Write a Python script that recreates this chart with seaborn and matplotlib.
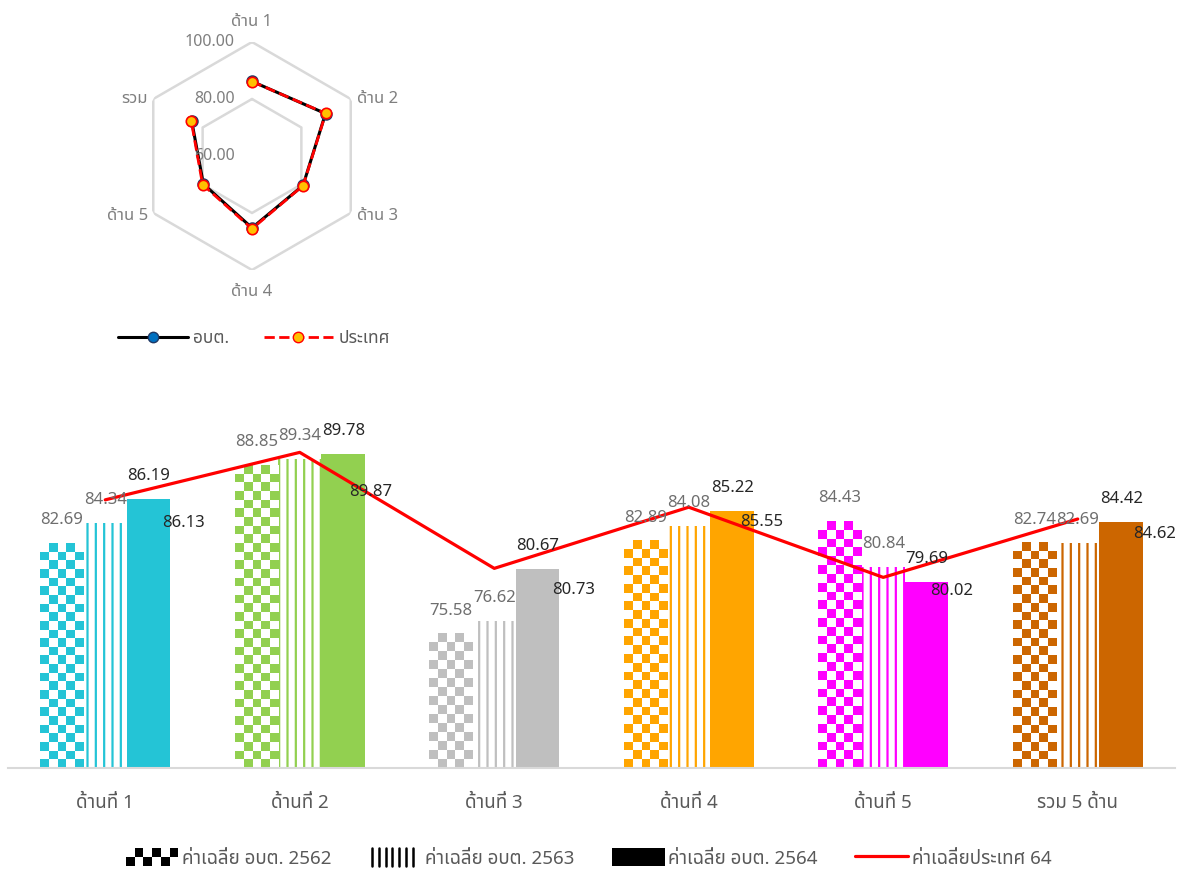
import numpy as np
import pandas as pd
import matplotlib
matplotlib.use('Agg')
import matplotlib.pyplot as plt
import seaborn as sns
from matplotlib import font_manager
from matplotlib.colors import ListedColormap
from matplotlib.lines import Line2D
from matplotlib.patches import Patch, Rectangle
from matplotlib.legend_handler import HandlerBase

# %%
# data
cats = ['ด้านที่ 1', 'ด้านที่ 2', 'ด้านที่ 3', 'ด้านที่ 4', 'ด้านที่ 5', 'รวม 5 ด้าน']
years = ['ค่าเฉลี่ย อบต. 2562', 'ค่าเฉลี่ย อบต. 2563', 'ค่าเฉลี่ย อบต. 2564']
country_name = 'ค่าเฉลี่ยประเทศ 64'
avg_2562 = [82.69, 88.85, 75.58, 82.89, 84.43, 82.74]
avg_2563 = [84.34, 89.34, 76.62, 84.08, 80.84, 82.69]
avg_2564 = [86.19, 89.78, 80.67, 85.22, 79.69, 84.42]
country_64 = [86.13, 89.87, 80.73, 85.55, 80.02, 84.62]

radar_axes = ['ด้าน 1', 'ด้าน 2', 'ด้าน 3', 'ด้าน 4', 'ด้าน 5', 'รวม']
radar_series = ['อบต.', 'ประเทศ']
radar_ticks = [60, 80, 100]

# %%
# styling
group_colors = ['#24C4D6', '#92D050', '#BFBFBF', '#FFA500', '#FF00FF', '#CC6600']
W, H = 1177, 869
DPI = 100
px = 72 / DPI  # points per pixel

# find a font with thai glyphs
thai_font = None
try:
    from fontTools.ttLib import TTFont
    found = []
    for f in font_manager.fontManager.ttflist:
        try:
            cmap = TTFont(f.fname, fontNumber=0, lazy=True).getBestCmap()
            if cmap and 0x0E14 in cmap and 0x0E49 in cmap:
                found.append(f.name)
        except Exception:
            pass
    prefer = ['Leelawadee UI', 'Leelawadee', 'Tahoma', 'Noto Sans Thai', 'Noto Sans Thai UI',
              'Sarabun', 'Loma', 'Garuda', 'Waree', 'Umpush', 'Norasi', 'Kinnari']
    for p in prefer:
        if p in found:
            thai_font = p
            break
    if thai_font is None and found:
        thai_font = found[0]
except Exception:
    pass

sns.set_style('white')
plt.rcParams['font.family'] = ([thai_font] if thai_font else []) + ['DejaVu Sans']
plt.rcParams['hatch.linewidth'] = 1.6

fig = plt.figure(figsize=(W / DPI, H / DPI), dpi=DPI)

# %%
# bar chart
df = pd.DataFrame({
    'cat': cats * 3,
    'year': np.repeat(years, len(cats)),
    'value': avg_2562 + avg_2563 + avg_2564,
})
ymin, ymax = 65, 92.5
ax = fig.add_axes([8 / W, 101 / H, 1167 / W, 349 / H])
sns.barplot(data=df, x='cat', y='value', hue='year', width=0.67, palette=['white'] * 3,
            saturation=1, errorbar=None, legend=False, ax=ax)
ax.set_xlim(-0.5, 5.5)
ax.set_ylim(ymin, ymax)

cell = 8.7
for i, cont in enumerate(ax.containers):
    for bar, col in zip(cont, group_colors):
        bar.set_linewidth(0)
        if i == 0:
            bar.set_facecolor('white')
            x0, w = bar.get_x(), bar.get_width()
            top = bar.get_height()
            p0 = ax.transData.transform((x0, ymin))
            p1 = ax.transData.transform((x0 + w, top))
            nx = max(1, int(round((p1[0] - p0[0]) / cell)))
            ny = max(1, int(round((p1[1] - p0[1]) / cell)))
            checker = np.add.outer(np.arange(ny), np.arange(nx)) % 2
            ax.imshow(checker, cmap=ListedColormap(['white', col]), vmin=0, vmax=1,
                      extent=(x0, x0 + w, ymin, top), origin='upper',
                      interpolation='nearest', aspect='auto', zorder=1.5)
        elif i == 1:
            bar.set_facecolor('white')
            bar.set_edgecolor(col)
            bar.set_hatch('||')
        else:
            bar.set_facecolor(col)
ax.set_xlim(-0.5, 5.5)
ax.set_ylim(ymin, ymax)

sns.lineplot(x=np.arange(len(cats)), y=country_64, color='#FF0000', linewidth=2.3,
             ax=ax, zorder=4)

label_colors = ['#6E6E6E', '#6E6E6E', '#262626']
for i, (cont, vals) in enumerate(zip(ax.containers, [avg_2562, avg_2563, avg_2564])):
    for bar, v in zip(cont, vals):
        ax.annotate(f'{v:.2f}', (bar.get_x() + bar.get_width() / 2, v),
                    xytext=(0, 23 * px), textcoords='offset points',
                    ha='center', va='center', color=label_colors[i], fontsize=12, zorder=5)

line_dx = [78, 71, 79, 73, 68, 77]
line_dy = [-23, -40, -22, -15, -14, -15]
for k, v in enumerate(country_64):
    ax.annotate(f'{v:.2f}', (k, v), xytext=(line_dx[k] * px, line_dy[k] * px),
                textcoords='offset points', ha='center', va='center',
                color='#262626', fontsize=12, zorder=5)

for s in ['top', 'right', 'left']:
    ax.spines[s].set_visible(False)
ax.spines['bottom'].set_color('#D9D9D9')
ax.spines['bottom'].set_linewidth(1.5)
ax.set_yticks([])
ax.set_xlabel('')
ax.set_ylabel('')
ax.tick_params(axis='x', length=0, pad=19, labelsize=13.5, labelcolor='#595959')


class CheckerHandler(HandlerBase):
    def create_artists(self, legend, orig_handle, xdescent, ydescent, width, height, fontsize, trans):
        arts = []
        nx, ny = 6, 2
        cw, ch = width / nx, height / ny
        for c in range(nx):
            for r in range(ny):
                if (c + r) % 2 == 0:
                    arts.append(Rectangle((-xdescent + c * cw, -ydescent + r * ch), cw, ch,
                                          facecolor='black', linewidth=0, transform=trans))
        return arts


class VLineHandler(HandlerBase):
    def create_artists(self, legend, orig_handle, xdescent, ydescent, width, height, fontsize, trans):
        xs = np.linspace(-xdescent + 2, -xdescent + width - 6, 7)
        return [Line2D([x, x], [-ydescent, -ydescent + height], color='black', lw=1.8,
                       transform=trans) for x in xs]


h_check = Patch(label=years[0])
h_vline = Patch(label=years[1])
h_solid = Patch(facecolor='black', edgecolor='none', label=years[2])
h_line = Line2D([], [], color='#FF0000', lw=2.3, label=country_name)
fig.legend(handles=[h_check, h_vline, h_solid, h_line], loc='center',
           bbox_to_anchor=(0.5, (H - 858) / H), ncol=4, frameon=False, fontsize=13.5,
           labelcolor='#595959', handlelength=2.8, handleheight=1.1, handletextpad=0.2,
           columnspacing=2.0,
           handler_map={h_check: CheckerHandler(), h_vline: VLineHandler()})

# %%
# radar chart
cx, cy, rad = 252, 156, 114
rax = fig.add_axes([(cx - rad) / W, (H - cy - rad) / H, 2 * rad / W, 2 * rad / H],
                   projection='polar')
theta = np.linspace(0, 2 * np.pi, len(radar_axes), endpoint=False)
rax.set_theta_offset(np.pi / 2)
rax.set_theta_direction(-1)
rax.grid(False)
rax.spines['polar'].set_visible(False)
rax.set_xticks([])
rax.set_yticks([])
rax.set_facecolor('none')

closed = np.append(theta, theta[0])
for r in radar_ticks[1:]:
    rax.plot(closed, [r] * len(closed), color='#D9D9D9', lw=1.8, zorder=0)

sns.lineplot(x=closed, y=avg_2564 + avg_2564[:1], sort=False, color='black', lw=2.2,
             marker='o', markersize=7.5, markerfacecolor='#0070C0', markeredgecolor='#1F3864',
             markeredgewidth=1.5, ax=rax, zorder=3)
sns.lineplot(x=closed, y=country_64 + country_64[:1], sort=False, color='#FF0000', lw=2,
             dashes=False, linestyle='--', marker='o', markersize=7.5, markerfacecolor='#FFC000',
             markeredgecolor='#FF0000', markeredgewidth=1.2, ax=rax, zorder=4)
rax.set_ylim(radar_ticks[0], radar_ticks[-1])
rax.set_xlabel('')
rax.set_ylabel('')

for r in radar_ticks:
    rax.annotate(f'{r:.2f}', (0, r), xytext=(-17 * px, 0), textcoords='offset points',
                 ha='right', va='center', color='#7F7F7F', fontsize=11.5)

for t, name in zip(theta, radar_axes):
    s = np.sin(t)
    if abs(s) < 0.1:
        dx, dy, ha = 0, (20 if np.cos(t) > 0 else -22), 'center'
    else:
        dx, dy, ha = (6 if s > 0 else -5), -3 * (np.cos(t) < 0), ('left' if s > 0 else 'right')
    rax.annotate(name, (t, radar_ticks[-1]), xytext=(dx * px, dy * px), textcoords='offset points',
                 ha=ha, va='center', color='#7F7F7F', fontsize=12, annotation_clip=False)

r_h1 = Line2D([], [], color='black', lw=2.2, marker='o', markersize=7.5,
              markerfacecolor='#0070C0', markeredgecolor='#1F3864', label=radar_series[0])
r_h2 = Line2D([], [], color='#FF0000', lw=2, linestyle='--', marker='o', markersize=7.5,
              markerfacecolor='#FFC000', markeredgecolor='#FF0000', label=radar_series[1])
fig.legend(handles=[r_h1, r_h2], loc='center', bbox_to_anchor=(254 / W, (H - 338) / H),
           ncol=2, frameon=False, fontsize=12.5, labelcolor='#595959', handlelength=4.0,
           handletextpad=0.3, columnspacing=2.0)

fig.savefig('out.png', dpi=DPI)
